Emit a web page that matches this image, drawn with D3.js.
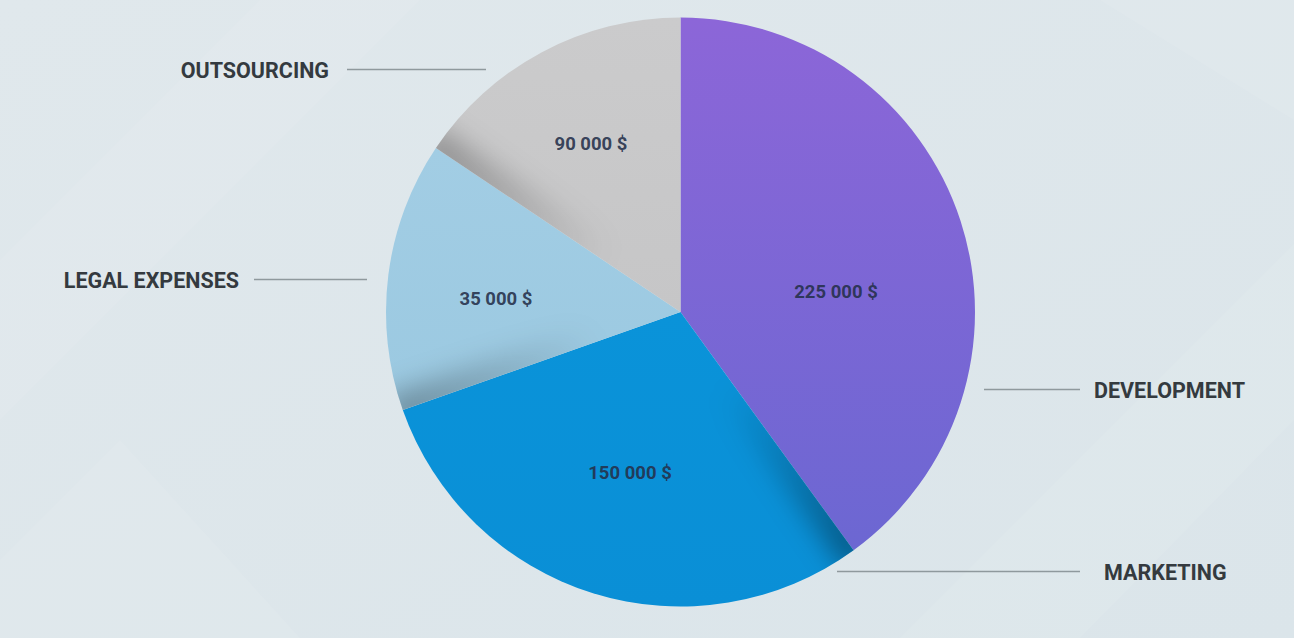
<!DOCTYPE html>
<html>
<head>
<meta charset="utf-8">
<script src="https://cdn.jsdelivr.net/npm/d3@7/dist/d3.min.js"></script>
<style>
  html, body { margin: 0; padding: 0; background: #dfe7eb; }
  svg { display: block; }
  text { font-family: Roboto, "Noto Sans", sans-serif; font-weight: 700; }
</style>
</head>
<body>
<svg id="chart" width="1294" height="638"></svg>
<script>
// ---- data ----
const categories = ["DEVELOPMENT", "MARKETING", "LEGAL EXPENSES", "OUTSOURCING"];
const amounts = [225000, 150000, 35000, 90000];          // printed values
const shares = [40.0, 29.6, 14.8, 15.6];                  // slice sizes as drawn (%)
const colors = ["#7f66d6", "#0a92d8", "#9fcbe3", "#c8c8c9"];

// ---- layout (not data) ----
const W = 1294, H = 638;
const cx = 680.5, cy = 312, R = 294.5;
const labelLayout = {
  "DEVELOPMENT":    { tx: 1094, ty: 390, anchor: "start", x1: 984, x2: 1080 },
  "MARKETING":      { tx: 1104, ty: 572, anchor: "start", x1: 837, x2: 1080 },
  "LEGAL EXPENSES": { tx: 239,  ty: 280, anchor: "end",   x1: 254, x2: 367 },
  "OUTSOURCING":    { tx: 329,  ty: 70,  anchor: "end",   x1: 347, x2: 486 }
};
const valueLayout = [[836, 292], [630, 473], [496, 299], [591, 144]];

const svg = d3.select("#chart");
const defs = svg.append("defs");

// background
const bg = defs.append("linearGradient").attr("id", "bg").attr("x1", 0).attr("y1", 0).attr("x2", 1).attr("y2", 1);
bg.append("stop").attr("offset", 0).attr("stop-color", "#e0e8ec");
bg.append("stop").attr("offset", 1).attr("stop-color", "#dbe5ea");
svg.append("rect").attr("width", W).attr("height", H).attr("fill", "url(#bg)");
const bands = [
  [[0, 260], [260, 0], [420, 0], [0, 420]],
  [[900, 638], [1294, 244], [1294, 420], [1080, 638]],
  [[1100, 0], [1294, 0], [1294, 120]],
  [[0, 560], [120, 440], [300, 638], [0, 638]]
];
svg.selectAll("polygon.band").data(bands).join("polygon")
  .attr("class", "band")
  .attr("points", d => d.map(p => p.join(",")).join(" "))
  .attr("fill", "#ffffff").attr("opacity", 0.08);

// slice gradients
const slicePalette = [
  ["#8c66d8", "#6c67d2"],
  ["#0a93d9", "#0a8fd6"],
  ["#a2cde4", "#9bc9e1"],
  ["#cbcbcc", "#c6c6c7"]
];
slicePalette.forEach((c, i) => {
  const g = defs.append("linearGradient").attr("id", "sg" + i)
    .attr("x1", 0).attr("y1", 0).attr("x2", 0).attr("y2", 1);
  g.append("stop").attr("offset", 0).attr("stop-color", c[0]);
  g.append("stop").attr("offset", 1).attr("stop-color", c[1]);
});

defs.append("filter").attr("id", "blur")
  .attr("x", "-50%").attr("y", "-50%").attr("width", "200%").attr("height", "200%")
  .append("feGaussianBlur").attr("stdDeviation", 14);

const pie = d3.pie().sort(null).value(d => d);
const arcs = pie(shares);
const arc = d3.arc().innerRadius(0).outerRadius(R);

const g = svg.append("g").attr("transform", `translate(${cx},${cy})`);

arcs.forEach((a, i) => {
  defs.append("clipPath").attr("id", "clip" + i)
    .append("path").attr("d", arc(a));
});

g.selectAll("path.slice").data(arcs).join("path")
  .attr("class", "slice")
  .attr("d", arc)
  .attr("fill", (d, i) => `url(#sg${i})`);

// soft shading along each slice's start edge, fading toward the centre
const shadeOpacity = [0.18, 0.4, 0.32, 0.3];
arcs.forEach((a, i) => {
  const ang = a.startAngle;
  const ex = Math.sin(ang) * R, ey = -Math.cos(ang) * R;
  const sg = defs.append("linearGradient").attr("id", "sh" + i)
    .attr("gradientUnits", "userSpaceOnUse")
    .attr("x1", 0).attr("y1", 0).attr("x2", ex).attr("y2", ey);
  sg.append("stop").attr("offset", 0.3).attr("stop-color", "#000").attr("stop-opacity", 0);
  sg.append("stop").attr("offset", 1).attr("stop-color", "#000").attr("stop-opacity", shadeOpacity[i]);
  svg.append("g").attr("clip-path", `url(#clip${i})`)
    .attr("transform", `translate(${cx},${cy})`)
    .append("line")
    .attr("x1", 0).attr("y1", 0).attr("x2", ex * 1.05).attr("y2", ey * 1.05)
    .attr("stroke", `url(#sh${i})`)
    .attr("stroke-width", 34)
    .attr("filter", "url(#blur)");
});

// value labels
const fmt = v => d3.format(",")(v).replace(/,/g, " ") + " $";
svg.selectAll("text.val").data(amounts).join("text")
  .attr("class", "val")
  .attr("x", (d, i) => valueLayout[i][0])
  .attr("y", (d, i) => valueLayout[i][1])
  .attr("dy", "0.35em")
  .attr("text-anchor", "middle")
  .attr("font-size", 18.5)
  .attr("fill", "#25304a")
  .attr("fill-opacity", 0.9)
  .text(fmt);

// category labels with leader lines
svg.selectAll("line.lead").data(categories).join("line")
  .attr("class", "lead")
  .attr("x1", d => labelLayout[d].x1).attr("x2", d => labelLayout[d].x2)
  .attr("y1", d => labelLayout[d].ty - 0.5).attr("y2", d => labelLayout[d].ty - 0.5)
  .attr("stroke", "#8f999d").attr("stroke-width", 1.3);

svg.selectAll("text.cat").data(categories).join("text")
  .attr("class", "cat")
  .attr("x", d => labelLayout[d].tx)
  .attr("y", d => labelLayout[d].ty)
  .attr("dy", "0.36em")
  .attr("text-anchor", d => labelLayout[d].anchor)
  .attr("font-size", 21.5)
  .attr("fill", "#343a3f")
  .text(d => d);
</script>
</body>
</html>
